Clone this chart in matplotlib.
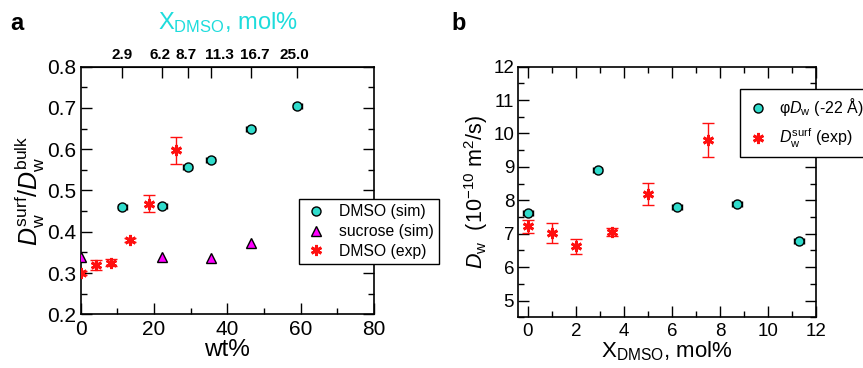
import numpy as np
import matplotlib
matplotlib.use('Agg')
import matplotlib.pyplot as plt
from matplotlib.lines import Line2D
from matplotlib.ticker import MultipleLocator, NullFormatter

plt.rcParams['font.family'] = ['Liberation Sans', 'DejaVu Sans']
plt.rcParams['mathtext.fontset'] = 'custom'
plt.rcParams['mathtext.rm'] = 'Liberation Sans'
plt.rcParams['mathtext.it'] = 'Liberation Sans:italic'
plt.rcParams['mathtext.bf'] = 'Liberation Sans:bold'

# panel a: ratio vs wt%
dmso_sim_wt = [11.3, 22.3, 29.2, 35.5, 46.4, 59.1]
dmso_sim_ratio = [0.460, 0.462, 0.558, 0.573, 0.648, 0.704]
dmso_sim_xerr = [1.2, 1.2, 1.2, 1.2, 1.2, 1.2]

sucrose_wt = [0.0, 22.3, 35.5, 46.4]
sucrose_ratio = [0.340, 0.340, 0.336, 0.372]

dmso_exp_wt = [0.0, 4.2, 8.2, 13.5, 18.6, 25.9]
dmso_exp_ratio = [0.300, 0.320, 0.325, 0.380, 0.468, 0.597]
dmso_exp_err = [0.004, 0.012, 0.009, 0.006, 0.020, 0.032]

top_mol = ['2.9', '6.2', '8.7', '11.3', '16.7', '25.0']
top_wt = [11.3, 22.3, 29.2, 35.5, 46.4, 59.1]

# panel b: D_w vs mol%
sim_mol = [0.0, 2.9, 6.2, 8.7, 11.3]
sim_dw = [7.63, 8.92, 7.80, 7.88, 6.77]
sim_xerr = [0.2, 0.2, 0.2, 0.2, 0.2]

exp_mol = [0.0, 1.0, 2.0, 3.5, 5.0, 7.5]
exp_dw = [7.22, 7.02, 6.62, 7.05, 8.19, 9.80]
exp_err = [0.20, 0.29, 0.22, 0.12, 0.33, 0.50]

cyan = '#30DCCC'
title_cyan = '#1EDCDC'
red = '#FF1010'
magenta = '#FF00FF'
star = (6, 2, 0)

fig = plt.figure(figsize=(8.63, 3.68), dpi=100)
ax1 = fig.add_axes([0.0935, 0.1459, 0.340, 0.673])
ax2 = fig.add_axes([0.6006, 0.138, 0.345, 0.681])

# ---- panel a ----
ax1.errorbar(dmso_sim_wt, dmso_sim_ratio, xerr=dmso_sim_xerr, fmt='o', ms=6.5,
             mfc=cyan, mec='black', mew=1.0, ecolor='black', elinewidth=1.0,
             capsize=2, zorder=3)
ax1.plot(sucrose_wt, sucrose_ratio, '^', ms=7.5, mfc=magenta, mec='black',
         mew=1.0, zorder=3)
ax1.errorbar(dmso_exp_wt, dmso_exp_ratio, yerr=dmso_exp_err, fmt='none',
             ecolor=red, elinewidth=1.0, capsize=4, zorder=2)
ax1.plot(dmso_exp_wt, dmso_exp_ratio, linestyle='none', marker=star,
         ms=8, mec=red, mew=2.0, zorder=4)

ax1.set_xlim(0, 80)
ax1.set_ylim(0.2, 0.8)
ax1.xaxis.set_major_locator(MultipleLocator(20))
ax1.xaxis.set_minor_locator(MultipleLocator(10))
ax1.yaxis.set_major_locator(MultipleLocator(0.1))
ax1.yaxis.set_minor_locator(MultipleLocator(0.05))
ax1.tick_params(which='both', direction='in', right=True, top=False,
                labelsize=15)
ax1.tick_params(which='major', length=8, width=1)
ax1.tick_params(which='minor', length=4, width=1)
ax1.tick_params(axis='x', pad=4)
ax1.tick_params(axis='y', pad=3)
ax1.set_xlabel('wt%', fontsize=17.5, labelpad=0)
ax1.set_ylabel(r'$D_\mathrm{w}^\mathrm{surf}/D_\mathrm{w}^\mathrm{bulk}$',
               fontsize=18, labelpad=0)

# top axis: mol% ticks at the matching wt% positions
top = ax1.secondary_xaxis('top')
top.set_ticks(top_wt)
top.xaxis.set_major_formatter(NullFormatter())
top.tick_params(direction='in', length=8, width=1)
label_shift = [0, -2, -1, 6, 3, -2]
for wt, lbl, dx in zip(top_wt, top_mol, label_shift):
    ax1.annotate(lbl, xy=(wt, 1.0), xycoords=('data', 'axes fraction'),
                 xytext=(dx, 3), textcoords='offset points', ha='center',
                 va='bottom', fontsize=11, fontweight='bold')
ax1.text(0.5, 1.152, r'X$_\mathrm{DMSO}$, mol%', transform=ax1.transAxes,
         color=title_cyan, fontsize=17, ha='center', va='baseline')

handles1 = [
    Line2D([], [], ls='none', marker='o', ms=6.5, mfc=cyan, mec='black', mew=1.0),
    Line2D([], [], ls='none', marker='^', ms=7.5, mfc=magenta, mec='black', mew=1.0),
    Line2D([], [], ls='none', marker=star, ms=8, mec=red, mew=2.0),
]
leg1 = ax1.legend(handles1, ['DMSO (sim)', 'sucrose (sim)', 'DMSO (exp)'],
                  loc='upper left', bbox_to_anchor=(0.744, 0.466),
                  fontsize=11.3, frameon=True, fancybox=False, edgecolor='black',
                  borderpad=0.35, handletextpad=0.7, labelspacing=0.3,
                  handlelength=1.5, borderaxespad=0, framealpha=1)
leg1.get_frame().set_linewidth(1.0)
leg1.set_zorder(5)

# ---- panel b ----
ax2.errorbar(sim_mol, sim_dw, xerr=sim_xerr, fmt='o', ms=6.5, mfc=cyan,
             mec='black', mew=1.0, ecolor='black', elinewidth=1.0, capsize=2,
             zorder=3)
ax2.errorbar(exp_mol, exp_dw, yerr=exp_err, fmt='none', ecolor=red,
             elinewidth=1.0, capsize=4, zorder=2)
ax2.plot(exp_mol, exp_dw, linestyle='none', marker=star, ms=8, mec=red,
         mew=2.0, zorder=4)

ax2.set_xlim(-0.4, 12)
ax2.set_ylim(4.5, 12)
ax2.xaxis.set_major_locator(MultipleLocator(2))
ax2.xaxis.set_minor_locator(MultipleLocator(1))
ax2.yaxis.set_major_locator(MultipleLocator(1))
ax2.yaxis.set_minor_locator(MultipleLocator(0.5))
ax2.tick_params(which='both', direction='in', right=True, top=True,
                labelsize=13.5)
ax2.tick_params(which='major', length=8, width=1)
ax2.tick_params(which='minor', length=4, width=1)
ax2.tick_params(axis='x', pad=4)
ax2.tick_params(axis='y', pad=3)
ax2.set_xlabel(r'X$_\mathrm{DMSO}$, mol%', fontsize=16, labelpad=0)
ax2.set_ylabel(r'$D_\mathrm{w}$  (10$^{-10}$ m$^2$/s)', fontsize=15.5,
               labelpad=2)

handles2 = [
    Line2D([], [], ls='none', marker='o', ms=6.5, mfc=cyan, mec='black', mew=1.0),
    Line2D([], [], ls='none', marker=star, ms=8, mec=red, mew=2.0),
]
leg2 = ax2.legend(handles2, [r'φ$D_\mathrm{w}$ (-22 Å)',
                             r'$D_\mathrm{w}^\mathrm{surf}$ (exp)'],
                  loc='upper left', bbox_to_anchor=(0.745, 0.911),
                  fontsize=11.5, frameon=True, fancybox=False, edgecolor='black',
                  borderpad=0.45, handletextpad=0.6, labelspacing=0.55,
                  handlelength=1.4, borderaxespad=0, framealpha=1)
leg2.get_frame().set_linewidth(1.0)
leg2.set_zorder(5)

for ax in (ax1, ax2):
    for s in ax.spines.values():
        s.set_linewidth(1.2)

fig.text(0.012, 0.918, 'a', fontsize=17, fontweight='bold')
fig.text(0.5226, 0.918, 'b', fontsize=17, fontweight='bold')

fig.savefig('out.png', dpi=100)
